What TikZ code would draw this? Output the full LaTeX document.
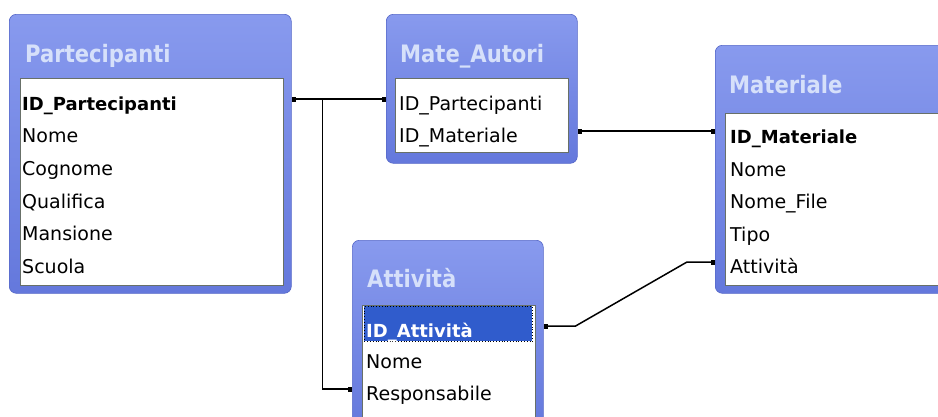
\documentclass[tikz,border=0pt]{standalone}
\usepackage{fontspec}
\setmainfont{DejaVu Sans}
\newfontfamily\titlefont[FakeStretch=0.88]{DejaVu Sans}
\usepackage{tikz}
\usetikzlibrary{arrows,arrows.meta,positioning,calc}
\usepackage{xcolor}
\definecolor{acframe}{RGB}{100,120,220}
\definecolor{actop}{RGB}{136,154,238}
\definecolor{acline}{RGB}{86,104,200}
\definecolor{actitle}{RGB}{214,224,250}
\definecolor{acsel}{RGB}{48,92,204}
\definecolor{acedge}{RGB}{104,112,104}
\tikzstyle{tablebox} = [rectangle, rounded corners=7pt, anchor=north west, inner sep=0pt, draw=acline, line width=0.6pt, top color=actop, bottom color=acframe]
\tikzstyle{listbox} = [rectangle, anchor=north west, inner sep=0pt, draw=acedge, fill=white, line width=1pt]
\tikzstyle{titletext} = [anchor=base west, inner sep=0pt, text=actitle, font=\titlefont\bfseries\fontsize{24}{24}\selectfont]
\tikzstyle{field} = [anchor=west, inner sep=0pt, text height=22pt, text depth=0pt, font=\fontsize{19}{19}\selectfont]
\tikzstyle{keyfield} = [field, font=\bfseries\fontsize{18}{18}\selectfont]
\tikzstyle{link} = [line width=1.5pt, {Square[length=4pt,width=5pt]}-{Square[length=4pt,width=5pt]}]

\begin{document}
\begin{tikzpicture}[x=1pt, y=-1pt]
\useasboundingbox[fill=white] (0,0) rectangle (938,416);
% Partecipanti
\node[tablebox, minimum width=282pt, minimum height=279pt] (partecipanti) at (9,14) {};
\node[titletext] (p-title) at (25,62) {Partecipanti};
\node[listbox, minimum width=263pt, minimum height=207pt] (p-list) at (20,78) {};
\node[keyfield] (p-id) at (22,99) {ID\_Partecipanti};
\node[field] (p-nome) at (22,131.7) {Nome};
\node[field] (p-cognome) at (22,164.4) {Cognome};
\node[field] (p-qualifica) at (22,197.1) {Qualifica};
\node[field] (p-mansione) at (22,229.8) {Mansione};
\node[field] (p-scuola) at (22,262.5) {Scuola};

% Mate_Autori
\node[tablebox, minimum width=191pt, minimum height=149pt] (mateautori) at (386,14) {};
\node[titletext] (ma-title) at (400,62) {Mate\_Autori};
\node[listbox, minimum width=173pt, minimum height=74pt] (ma-list) at (395,78) {};
\node[field] (ma-idp) at (399,99) {ID\_Partecipanti};
\node[field] (ma-idm) at (399,131) {ID\_Materiale};

% Materiale
\node[tablebox, minimum width=240pt, minimum height=248pt] (materiale) at (715,45) {};
\node[titletext] (m-title) at (729,93) {Materiale};
\node[listbox, minimum width=225pt, minimum height=172pt] (m-list) at (725,113) {};
\node[keyfield] (m-idm) at (730,132) {ID\_Materiale};
\node[field] (m-nome) at (730,165) {Nome};
\node[field] (m-file) at (730,197) {Nome\_File};
\node[field] (m-tipo) at (730,230) {Tipo};
\node[field] (m-att) at (730,262) {Attività};

% Attivita
\node[tablebox, minimum width=191pt, minimum height=190pt] (attivita) at (352,240) {};
\node[titletext] (a-title) at (367,287) {Attività};
\node[listbox, minimum width=173pt, minimum height=120pt] (a-list) at (362,305) {};
\node[rectangle, anchor=north west, minimum width=168pt, minimum height=35pt, fill=acsel, draw=black, dotted, thick] (a-sel) at (364,306) {};
\node[keyfield, text=white] (a-id) at (366,326) {ID\_Attività};
\node[field] (a-nome) at (366,357) {Nome};
\node[field] (a-resp) at (366,389) {Responsabile};

% relazioni
\coordinate (split) at ($(p-id -| partecipanti.east)+(31,0)$);
\draw[link] (p-id -| partecipanti.east) -- (p-id -| mateautori.west);
\draw[line width=1.5pt, -{Square[length=4pt,width=5pt]}] (split) |- (a-resp -| attivita.west);
\draw[link] (ma-idm -| mateautori.east) -- (ma-idm -| materiale.west);
\draw[link] (a-id -| attivita.east) -- ++(32,0) -- ($(m-att -| materiale.west)+(-28,0)$) -- (m-att -| materiale.west);
\end{tikzpicture}
\end{document}
